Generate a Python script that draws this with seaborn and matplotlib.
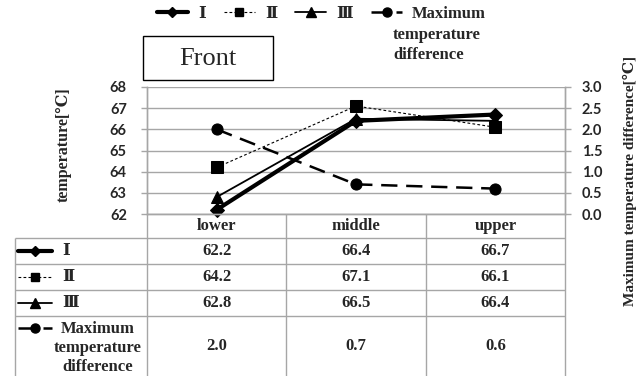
import numpy as np
import pandas as pd
import seaborn as sns
import matplotlib.pyplot as plt
from matplotlib.lines import Line2D
from matplotlib.patches import Rectangle

# data
categories = ['lower', 'middle', 'upper']
temp_I = [62.2, 66.4, 66.7]
temp_II = [64.2, 67.1, 66.1]
temp_III = [62.8, 66.5, 66.4]
max_diff = [2.0, 0.7, 0.6]
series_names = ['Ⅰ', 'Ⅱ', 'Ⅲ']
diff_name = ['Maximum', 'temperature', 'difference']
left_ticks = [62, 63, 64, 65, 66, 67, 68]
right_ticks = [0.0, 0.5, 1.0, 1.5, 2.0, 2.5, 3.0]

W, H = 640, 376
GRAY = '#A6A6A6'
SERIF = ['Liberation Serif', 'DejaVu Serif', 'Noto Sans CJK JP']
SANS = ['Lato', 'DejaVu Sans']

sns.set_theme(style='white')
plt.rcParams['font.family'] = SERIF


def box(x0, y0, x1, y1):
    # pixel box (top-left origin) -> figure fraction
    return [x0 / W, 1 - y1 / H, (x1 - x0) / W, (y1 - y0) / H]


styles = [
    dict(marker='D', linewidth=3, markersize=7, linestyle='-'),
    dict(marker='s', linewidth=0.8, markersize=9, linestyle=(0, (2.5, 2))),
    dict(marker='^', linewidth=1.3, markersize=8, linestyle='-'),
]
diff_style = dict(marker='o', linewidth=1.8, markersize=8, linestyle=(0, (6.5, 3.5)))
key_sizes = [5.5, 6, 6.5, 6.5]  # marker sizes in legend keys

fig = plt.figure(figsize=(6.4, 3.76), dpi=100)

# overlay in pixel units for table, legend and title box
ov = fig.add_axes([0, 0, 1, 1])
ov.set_xlim(0, W)
ov.set_ylim(H, 0)
ov.axis('off')

ax = fig.add_axes(box(147, 87, 565, 214))
ax.patch.set_alpha(0)
ax2 = ax.twinx()

for vals, st in zip([temp_I, temp_II, temp_III], styles):
    sns.lineplot(x=categories, y=vals, ax=ax, color='black', markeredgecolor='black',
                 clip_on=False, legend=False, **st)
sns.lineplot(x=categories, y=max_diff, ax=ax2, color='black', markeredgecolor='black',
             clip_on=False, legend=False, **diff_style)

ax.set_xlim(-0.5, 2.5)
ax.set_ylim(62, 68)
ax2.set_ylim(0, 3)
ax.set_xticks([])
ax.set_yticks(left_ticks)
ax2.set_yticks(right_ticks)
ax.set_yticklabels([str(t) for t in left_ticks], family=SANS, fontweight='bold', fontsize=10.5, color='#262626')
ax2.set_yticklabels([f'{t:.1f}' for t in right_ticks], family=SANS, fontweight='bold', fontsize=10.5, color='#262626')
ax.yaxis.grid(True, color=GRAY, lw=1)
ax.set_axisbelow(True)
ax.tick_params(axis='y', left=True, length=4, width=1, color=GRAY, pad=10.5)
ax2.tick_params(axis='y', right=True, length=4, width=1, color=GRAY, pad=8)
for a in (ax, ax2):
    a.set_xlabel('')
    for side in ['left', 'right', 'bottom']:
        a.spines[side].set_color(GRAY)
        a.spines[side].set_linewidth(1)
    a.spines['top'].set_visible(False)

ax.set_ylabel('temperature[℃]', fontweight='bold', fontsize=11.5)
ax.yaxis.set_label_coords((72 - 147) / 418, (214 - 145) / 127)
ax2.set_ylabel('Maximum temperature difference[℃]', fontweight='bold', fontsize=11)
ax2.yaxis.set_label_coords((623 - 147) / 418, (214 - 181) / 127)

# title box
ov.add_patch(Rectangle((143, 36), 130, 44, fill=False, ec='black', lw=1))
ov.text(208, 59, 'Front', ha='center', va='center', fontsize=19)

# top legend
handles = [Line2D([], [], color='black', **dict(st, markersize=ks))
           for st, ks in zip(styles + [diff_style], key_sizes)]
fig.legend(handles, series_names + [diff_name[0]], loc='upper left',
           bbox_to_anchor=(157 / W, 1 - 6 / H), ncol=4, frameon=False,
           prop=dict(family=SERIF, weight='bold', size=12),
           handlelength=1.85, handletextpad=0.6, columnspacing=1.1,
           borderpad=0, borderaxespad=0)
ov.text(393, 35, diff_name[1], ha='left', va='center', fontweight='bold', fontsize=12)
ov.text(393, 55, diff_name[2], ha='left', va='center', fontweight='bold', fontsize=12)

# data table under the plot
edges = np.linspace(147, 565, len(categories) + 1)
centers = (edges[:-1] + edges[1:]) / 2
rows_y = [238, 264, 290, 316, 376]
ov.vlines(edges, 214, H, color=GRAY, lw=1)
ov.vlines(15, 238, H, color=GRAY, lw=1)
ov.hlines(rows_y[:-1], 15, 565, color=GRAY, lw=1)

for cx, cat in zip(centers, categories):
    ov.text(cx, 226, cat, ha='center', va='center', fontweight='bold', fontsize=12)

table_rows = [temp_I, temp_II, temp_III, max_diff]
row_styles = styles + [diff_style]
for i, (vals, st) in enumerate(zip(table_rows, row_styles)):
    ymid = (rows_y[i] + rows_y[i + 1]) / 2
    for cx, v in zip(centers, vals):
        ov.text(cx, ymid, f'{v:.1f}', ha='center', va='center', fontweight='bold', fontsize=12)
    hy = ymid if i < 3 else 328
    ov.plot([18, 52], [hy, hy], color='black', marker='None',
            linewidth=st['linewidth'], linestyle=st['linestyle'])
    ov.plot([35], [hy], color='black', marker=st['marker'], markersize=key_sizes[i],
            linestyle='None')
    if i < 3:
        ov.text(62, ymid, series_names[i], ha='left', va='center', fontweight='bold', fontsize=12)
    else:
        ov.text(98, 348, '\n'.join(diff_name), ha='center', va='center', multialignment='center',
                fontweight='bold', fontsize=12, linespacing=1.25)

fig.savefig('out.png', dpi=100)
